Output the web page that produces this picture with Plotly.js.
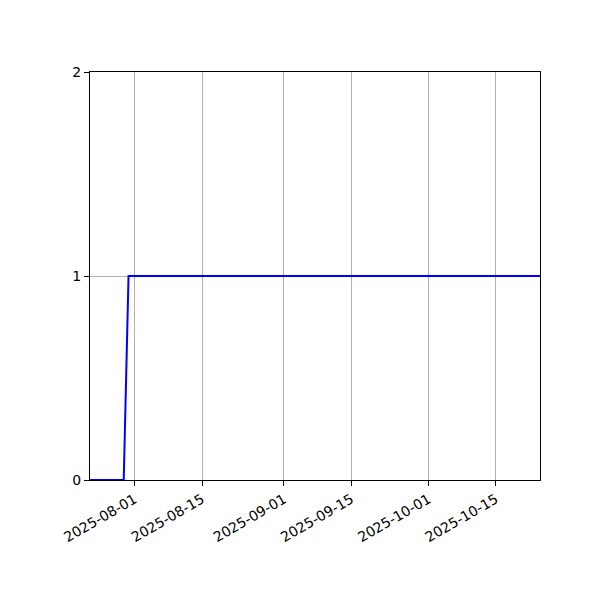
<!DOCTYPE html>
<html>
<head>
<meta charset="utf-8">
<script src="https://cdn.plot.ly/plotly-3.0.1.min.js"></script>
<style>
  body { margin: 0; background: #fff; }
  #plot { width: 600px; height: 600px; }
</style>
</head>
<body>
<div id="plot"></div>
<script>
// series points (the value steps from 0 to 1 at the end of July)
var dates = ['2025-07-22 18:00', '2025-07-29 18:00', '2025-07-30 18:00', '2025-10-24 04:00'];
var values = [0, 0, 1, 1];

// tick labels
var xTicks = ['2025-08-01', '2025-08-15', '2025-09-01', '2025-09-15', '2025-10-01', '2025-10-15'];
var yTicks = [0, 1, 2];

var trace = {
    x: dates,
    y: values,
    type: 'scatter',
    mode: 'lines',
    line: {color: 'blue', width: 2},
    hoverinfo: 'skip'
};

var axisBase = {
    showline: true,
    mirror: true,
    linecolor: 'black',
    linewidth: 1,
    ticks: 'outside',
    ticklen: 5,
    tickwidth: 1,
    tickcolor: 'black',
    zeroline: false,
    tickfont: {family: 'DejaVu Sans', size: 14, color: 'black'}
};

var layout = {
    width: 600,
    height: 600,
    margin: {l: 90, r: 60, t: 72, b: 120},
    paper_bgcolor: 'white',
    plot_bgcolor: 'white',
    showlegend: false,
    font: {family: 'DejaVu Sans', size: 14, color: 'black'},
    xaxis: Object.assign({}, axisBase, {
        type: 'date',
        range: [dates[0], dates[dates.length - 1]],
        tickmode: 'array',
        tickvals: xTicks,
        ticktext: xTicks,
        tickangle: -30,
        showgrid: true,
        gridcolor: '#b0b0b0',
        gridwidth: 1
    }),
    yaxis: Object.assign({}, axisBase, {
        range: [0, 2],
        tickmode: 'array',
        tickvals: yTicks,
        ticktext: yTicks.map(String),
        showgrid: true,
        gridcolor: '#b0b0b0',
        gridwidth: 1
    })
};

Plotly.newPlot('plot', [trace], layout, {staticPlot: true});
</script>
</body>
</html>
